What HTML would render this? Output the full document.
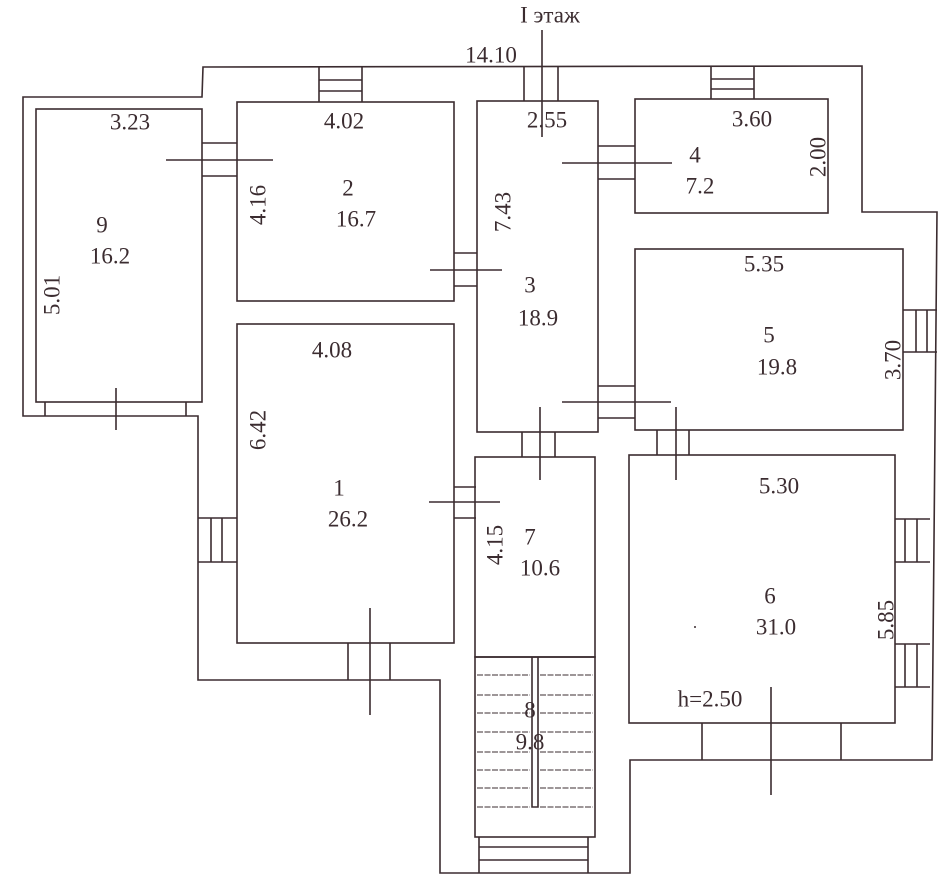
<!DOCTYPE html>
<html><head><meta charset="utf-8"><style>html,body{margin:0;padding:0;background:#fff}svg{display:block}</style></head>
<body>
<svg width="950" height="890" viewBox="0 0 950 890" xmlns="http://www.w3.org/2000/svg">
<rect width="950" height="890" fill="#fff"/>
<g fill="none" stroke="#3b2c30" stroke-width="1.6">
<path d="M203,67 L862,66 L862,212 L937,212 L932,760 L630,760 L630,873 L440,873 L440,680 L198,680 L198,416 L23,416 L23,97 L202,97 Z"/>
<rect x="36" y="109" width="166" height="293"/>
<rect x="237" y="102" width="217" height="199"/>
<rect x="237" y="324" width="217" height="319"/>
<rect x="477" y="101" width="121" height="331"/>
<rect x="635" y="99" width="193" height="114"/>
<rect x="635" y="249" width="268" height="181"/>
<rect x="629" y="455" width="266" height="268"/>
<rect x="475" y="457" width="120" height="200"/>
<rect x="475" y="657" width="120" height="180"/>
<path d="M45,402 V416 M186,402 V416 M116,388 V430"/>
<path d="M202,143 H237 M202,176 H237 M166,160 H273"/>
<path d="M319,67 V102 M362,67 V102 M319,80 H362 M319,91 H362"/>
<path d="M454,253 H477 M454,286 H477 M430,270 H502"/>
<path d="M524,66 V101 M558,66 V101 M542,30 V137"/>
<path d="M711,66 V99 M754,66 V99 M711,79 H754 M711,89 H754"/>
<path d="M598,146 H635 M598,179 H635 M562,163 H672"/>
<path d="M903,310 H937 M903,352 H937 M916,310 V352 M927,310 V352"/>
<path d="M598,386 H635 M598,418 H635 M562,402 H671"/>
<path d="M657,430 V455 M689,430 V455 M676,407 V480"/>
<path d="M522,432 V457 M555,432 V457 M540,407 V480"/>
<path d="M198,518 H237 M198,562 H237 M211,518 V562 M222,518 V562"/>
<path d="M348,643 V680 M390,643 V680 M370,608 V715"/>
<path d="M454,487 H476 M454,518 H476 M429,502 H500"/>
<path d="M895,519 H930 M895,562 H930 M905,519 V562 M917,519 V562"/>
<path d="M895,644 H930 M895,687 H930 M905,644 V687 M917,644 V687"/>
<path d="M702,723 V760 M841,723 V760 M771,687 V795"/>
<path d="M532,657 V807 H538 V657"/>
<path d="M479,837 V873 M588,837 V873 M479,847 H588 M479,860 H588"/>
</g>
<g stroke="#3b2c30" stroke-width="1.1" stroke-dasharray="6,1.5">
<path d="M477,675 H530 M540,675 H593 M477,695 H530 M540,695 H593 M477,713 H530 M540,713 H593 M477,732 H530 M540,732 H593 M477,752 H530 M540,752 H593 M477,770 H530 M540,770 H593 M477,788 H530 M540,788 H593 M477,807 H530 M540,807 H593"/>
</g>
<circle cx="695" cy="627" r="1" fill="#3b2c30"/>
<g font-family="Liberation Serif, serif" font-size="23" fill="#3b2c30" text-anchor="middle" dominant-baseline="central">
<text x="550" y="15">I этаж</text>
<text x="491" y="55">14.10</text>
<text x="130" y="122">3.23</text>
<text x="344" y="121">4.02</text>
<text x="547" y="120">2.55</text>
<text x="752" y="119">3.60</text>
<text x="695" y="155">4</text>
<text x="700" y="186">7.2</text>
<text x="102" y="225">9</text>
<text x="110" y="256">16.2</text>
<text x="348" y="188">2</text>
<text x="356" y="219">16.7</text>
<text x="530" y="285">3</text>
<text x="538" y="318">18.9</text>
<text x="764" y="264">5.35</text>
<text x="769" y="335">5</text>
<text x="777" y="367">19.8</text>
<text x="332" y="350">4.08</text>
<text x="339" y="488">1</text>
<text x="348" y="519">26.2</text>
<text x="530" y="537">7</text>
<text x="540" y="568">10.6</text>
<text x="779" y="486">5.30</text>
<text x="770" y="596">6</text>
<text x="776" y="627">31.0</text>
<text x="710" y="699">h=2.50</text>
<text x="530" y="710">8</text>
<text x="530" y="742">9.8</text>
<text transform="translate(818,157) rotate(-90)">2.00</text>
<text transform="translate(52,295) rotate(-90)">5.01</text>
<text transform="translate(258,205) rotate(-90)">4.16</text>
<text transform="translate(503,212) rotate(-90)">7.43</text>
<text transform="translate(893,360) rotate(-90)">3.70</text>
<text transform="translate(258,430) rotate(-90)">6.42</text>
<text transform="translate(495,545) rotate(-90)">4.15</text>
<text transform="translate(886,620) rotate(-90)">5.85</text>
</g>
</svg>
</body></html>
